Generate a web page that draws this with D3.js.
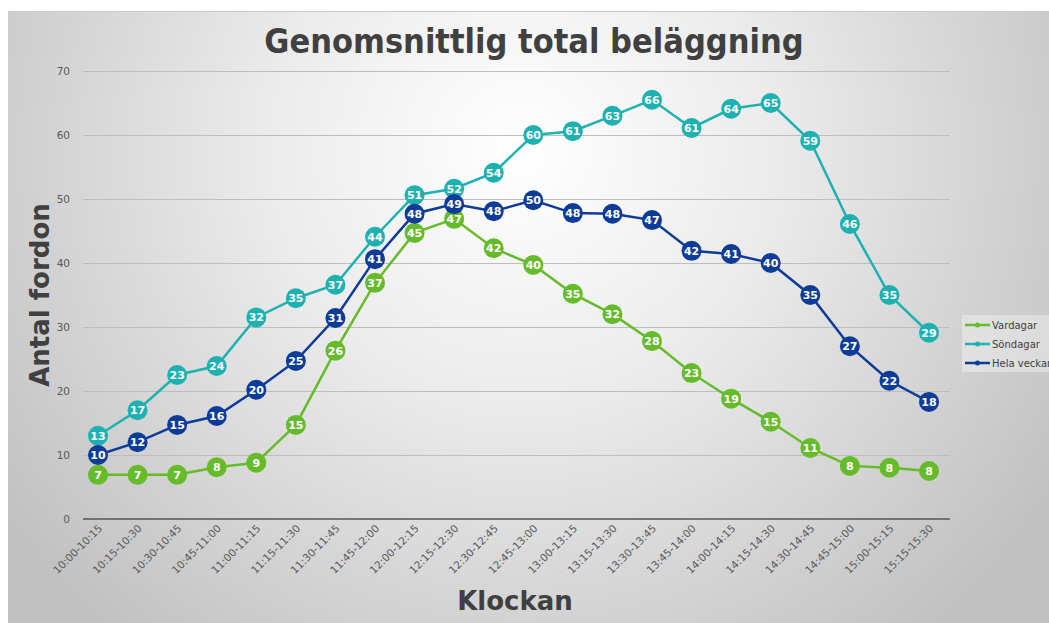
<!DOCTYPE html>
<html>
<head>
<meta charset="utf-8">
<script src="https://cdn.jsdelivr.net/npm/d3@7"></script>
<style>
  body { margin: 0; background: #fff; }
  text { font-family: "DejaVu Sans", Verdana, sans-serif; }
</style>
</head>
<body>
<script>
var categories = ["10:00-10:15","10:15-10:30","10:30-10:45","10:45-11:00","11:00-11:15","11:15-11:30",
  "11:30-11:45","11:45-12:00","12:00-12:15","12:15-12:30","12:30-12:45","12:45-13:00","13:00-13:15",
  "13:15-13:30","13:30-13:45","13:45-14:00","14:00-14:15","14:15-14:30","14:30-14:45","14:45-15:00",
  "15:00-15:15","15:15-15:30"]
var vardagar = [6.9,6.9,6.9,8.1,8.8,14.7,26.3,36.9,44.7,46.9,42.3,39.7,35.2,32.0,27.8,22.8,18.8,15.2,11.1,8.3,8.0,7.5]
var sondagar = [13.0,17.0,22.5,23.9,31.5,34.5,36.6,44.1,50.6,51.6,54.1,60.0,60.6,63.0,65.5,61.1,64.1,65.0,59.1,46.1,35.0,29.1]
var helaveckan = [10.0,12.0,14.7,16.1,20.2,24.7,31.4,40.6,47.7,49.2,48.1,49.8,47.8,47.7,46.7,41.9,41.4,40.0,35.0,27.0,21.6,18.3]
var yTicks = [0,10,20,30,40,50,60,70]

var series = [
  {name: "Vardagar", values: vardagar, color: "#66bb2b"},
  {name: "Söndagar", values: sondagar, color: "#1eb1b1"},
  {name: "Hela veckan", values: helaveckan, color: "#0c3c98"}
]

var W = 1049, H = 623
var svg = d3.select("body").append("svg").attr("width", W).attr("height", H)

var defs = svg.append("defs")
var grad = defs.append("radialGradient").attr("id", "bg")
  .attr("gradientUnits", "userSpaceOnUse")
  .attr("cx", 520).attr("cy", 150).attr("r", 640)
grad.append("stop").attr("offset", "0").attr("stop-color", "#ffffff")
grad.append("stop").attr("offset", "0.4").attr("stop-color", "#ebebeb")
grad.append("stop").attr("offset", "1").attr("stop-color", "#c0c0c0")

svg.append("rect").attr("x", 8).attr("y", 11).attr("width", W - 8).attr("height", H - 11)
  .attr("fill", "url(#bg)")
svg.append("line").attr("x1", 8).attr("x2", W).attr("y1", 11.5).attr("y2", 11.5)
  .attr("stroke", "#c8c8c8")

var x = d3.scalePoint().domain(categories).range([98, 929])
var y = d3.scaleLinear().domain([0, 70]).range([519, 71])
var plotL = 83, plotR = 950

// grid
svg.append("g").selectAll("line").data(yTicks.filter(function(d) { return d > 0 }))
  .enter().append("line")
  .attr("x1", plotL).attr("x2", plotR)
  .attr("y1", function(d) { return Math.round(y(d)) + 0.5 })
  .attr("y2", function(d) { return Math.round(y(d)) + 0.5 })
  .attr("stroke", "#bdbdbd").attr("stroke-width", 1)

svg.append("line").attr("x1", plotL).attr("x2", plotR)
  .attr("y1", y(0)).attr("y2", y(0))
  .attr("stroke", "#555").attr("stroke-width", 1.5)

svg.append("g").selectAll("text").data(yTicks).enter().append("text")
  .attr("x", 70).attr("y", function(d) { return y(d) + 4 })
  .attr("text-anchor", "end").attr("font-size", 10.5).attr("fill", "#595959")
  .text(function(d) { return d })

svg.append("g").selectAll("text").data(categories).enter().append("text")
  .attr("transform", function(d) { return "translate(" + (x(d) + 5) + "," + 529 + ") rotate(-45)" })
  .attr("text-anchor", "end").attr("font-size", 10.5).attr("fill", "#595959")
  .text(function(d) { return d })

// titles
svg.append("text").attr("x", 534).attr("y", 53).attr("text-anchor", "middle")
  .attr("font-size", 34).attr("font-weight", "bold").attr("fill", "#404040")
  .attr("font-stretch", "condensed")
  .style("font-family", "'DejaVu Sans Condensed', 'DejaVu Sans', sans-serif")
  .text("Genomsnittlig total beläggning")

svg.append("text").attr("transform", "translate(49,295) rotate(-90)").attr("text-anchor", "middle")
  .attr("font-size", 26).attr("font-weight", "bold").attr("fill", "#404040")
  .text("Antal fordon")

svg.append("text").attr("x", 515).attr("y", 610).attr("text-anchor", "middle")
  .attr("font-size", 26).attr("font-weight", "bold").attr("fill", "#404040")
  .text("Klockan")

// lines
var line = d3.line().x(function(d, i) { return x(categories[i]) }).y(function(d) { return y(d) })

series.forEach(function(s) {
  var g = svg.append("g")
  g.append("path").datum(s.values).attr("d", line)
    .attr("fill", "none").attr("stroke", s.color).attr("stroke-width", 2.5)
  var pts = g.selectAll("g").data(s.values).enter().append("g")
    .attr("transform", function(d, i) { return "translate(" + x(categories[i]) + "," + y(d) + ")" })
  pts.append("circle").attr("r", 10).attr("fill", s.color)
  pts.append("text").attr("y", 4).attr("text-anchor", "middle")
    .attr("font-size", 11).attr("font-weight", "bold").attr("fill", "#fff")
    .text(function(d) { return Math.round(d) })
})

// legend
var lg = svg.append("g").attr("transform", "translate(962,315)")
lg.append("rect").attr("width", 90).attr("height", 57).attr("fill", "#fff").attr("opacity", 0.35)
series.forEach(function(s, i) {
  var row = lg.append("g").attr("transform", "translate(0," + (10 + i * 19) + ")")
  row.append("line").attr("x1", 3).attr("x2", 28).attr("stroke", s.color).attr("stroke-width", 2.5)
  row.append("circle").attr("cx", 15.5).attr("r", 2.5).attr("fill", s.color)
  row.append("text").attr("x", 30).attr("y", 4).attr("font-size", 10).attr("fill", "#404040")
    .text(s.name)
})
</script>
</body>
</html>
